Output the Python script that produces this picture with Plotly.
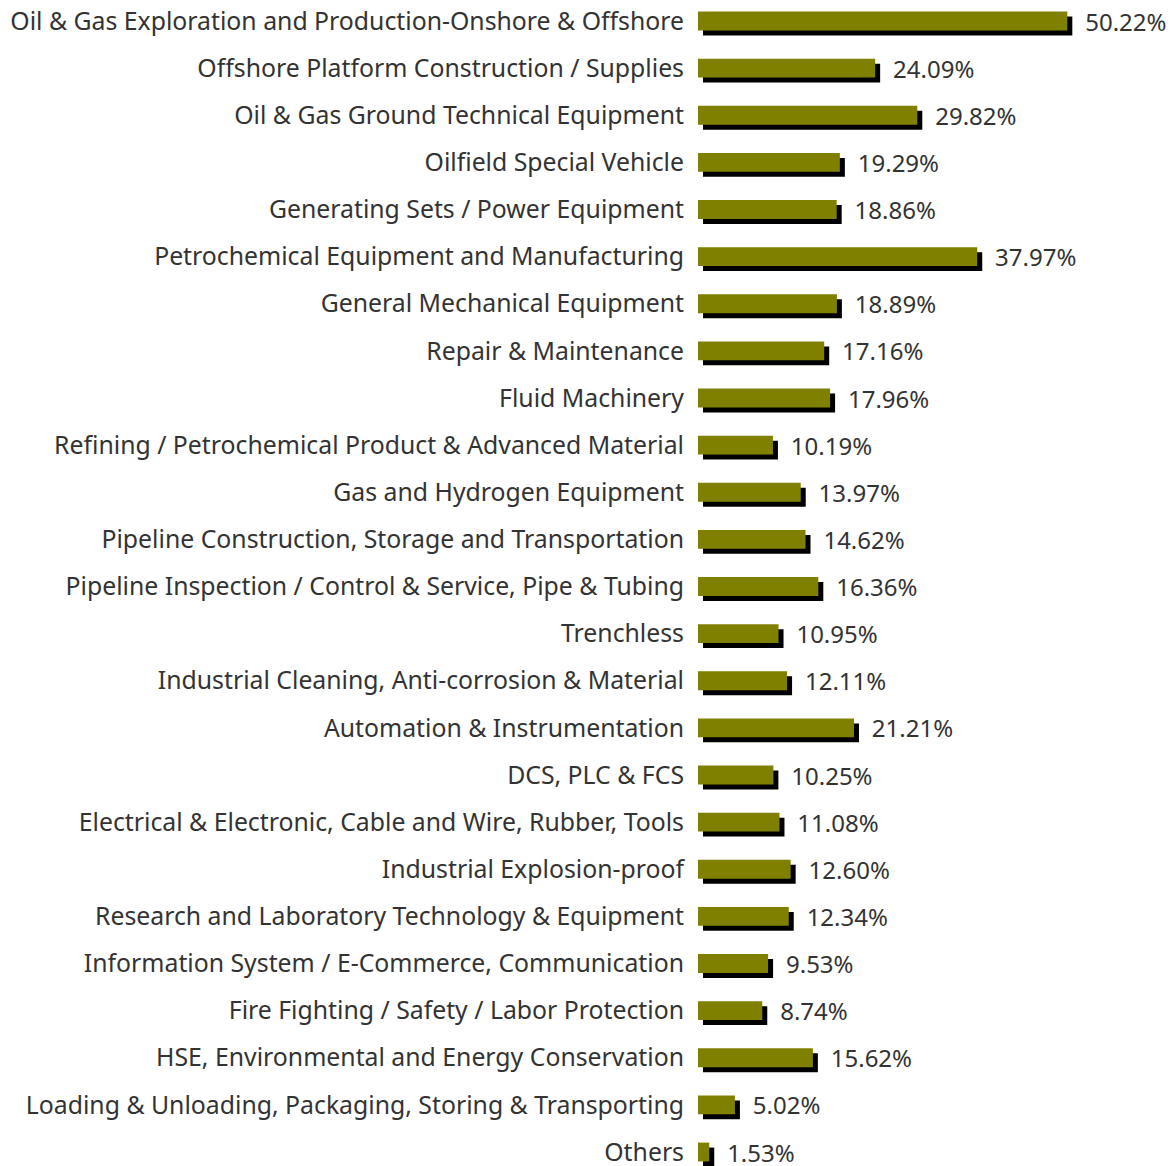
import plotly.graph_objects as go

# ── Data ──────────────────────────────────────────────────────────────────
CATEGORIES = [
    "Oil & Gas Exploration and Production-Onshore & Offshore",
    "Offshore Platform Construction / Supplies",
    "Oil & Gas Ground Technical Equipment",
    "Oilfield Special Vehicle",
    "Generating Sets / Power Equipment",
    "Petrochemical Equipment and Manufacturing",
    "General Mechanical Equipment",
    "Repair & Maintenance",
    "Fluid Machinery",
    "Refining / Petrochemical Product & Advanced Material",
    "Gas and Hydrogen Equipment",
    "Pipeline Construction, Storage and Transportation",
    "Pipeline Inspection / Control & Service, Pipe & Tubing",
    "Trenchless",
    "Industrial Cleaning, Anti-corrosion & Material",
    "Automation & Instrumentation",
    "DCS, PLC & FCS",
    "Electrical & Electronic, Cable and Wire, Rubber, Tools",
    "Industrial Explosion-proof",
    "Research and Laboratory Technology & Equipment",
    "Information System / E-Commerce, Communication",
    "Fire Fighting / Safety / Labor Protection",
    "HSE, Environmental and Energy Conservation",
    "Loading & Unloading, Packaging, Storing & Transporting",
    "Others",
]
SHARES = [50.22, 24.09, 29.82, 19.29, 18.86, 37.97, 18.89, 17.16, 17.96, 10.19,
          13.97, 14.62, 16.36, 10.95, 12.11, 21.21, 10.25, 11.08, 12.60, 12.34,
          9.53, 8.74, 15.62, 5.02, 1.53]

OLIVE = "#808000"
SHIFT_X = 0.68   # shadow offset along value axis
SHIFT_Y = 0.106  # shadow offset along category axis
BAR_W = 0.40
FONT = "Noto Sans"

pos = list(range(len(CATEGORIES)))

fig = go.Figure()

# black drop shadow
fig.add_trace(go.Bar(
    y=[p + SHIFT_Y for p in pos], x=SHARES, base=SHIFT_X,
    orientation="h", width=BAR_W, marker=dict(color="black", line_width=0),
    hoverinfo="skip",
))
# olive bar on top, carries the value labels
fig.add_trace(go.Bar(
    y=pos, x=SHARES, orientation="h", width=BAR_W,
    marker=dict(color=OLIVE, line_width=0),
    text=[f"  \u200a{v:.2f}%" for v in SHARES], textposition="outside",
    constraintext="none", cliponaxis=False,
    textfont=dict(color="#333333", size=24, family=FONT),
    hovertemplate="%{customdata}: %{x:.2f}%<extra></extra>",
    customdata=CATEGORIES,
))

fig.update_layout(
    width=1168, height=1158,
    margin=dict(l=690, r=0, t=0, b=0),
    barmode="overlay", showlegend=False,
    plot_bgcolor="white", paper_bgcolor="white",
    font=dict(family=FONT, size=24.8, color="#333333"),
)
fig.update_xaxes(range=[0, 65.0], visible=False)
fig.update_yaxes(
    range=[24.297, -0.276], tickvals=pos, ticktext=CATEGORIES,
    showgrid=False, zeroline=False, showline=False, ticks="",
    ticklabelstandoff=13, automargin=False, ticklabeloverflow="allow",
)

fig.write_html("out.html")
